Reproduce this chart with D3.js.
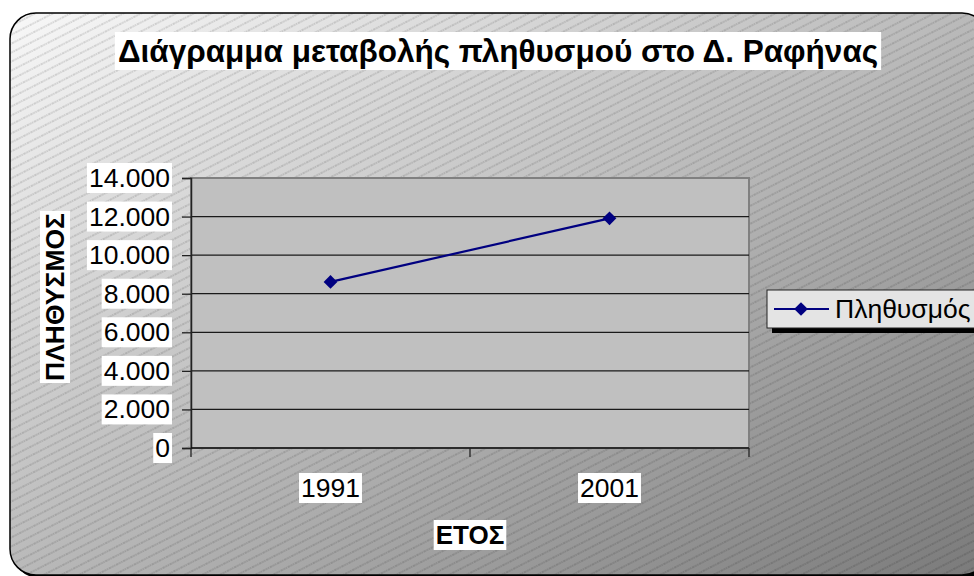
<!DOCTYPE html>
<html>
<head>
<meta charset="utf-8">
<script src="https://cdn.jsdelivr.net/npm/d3@7"></script>
<style>
  body { margin: 0; background: #fff; }
  svg { display: block; font-family: "Liberation Sans", Arial, sans-serif; }
</style>
</head>
<body>
<div id="chart"></div>
<script>
// Population data (Δ. Ραφήνας)
const years = ["1991", "2001"];
const population = [8611, 11909];
const yTicks = [0, 2000, 4000, 6000, 8000, 10000, 12000, 14000];
const seriesName = "Πληθυσμός";
const titleText = "Διάγραμμα μεταβολής πληθυσμού στο Δ. Ραφήνας";
const xTitle = "ΕΤΟΣ";
const yTitle = "ΠΛΗΘΥΣΜΟΣ";

const width = 974, height = 576;
const plot = { left: 191, top: 178, right: 749, bottom: 448 };

const svg = d3.select("#chart").append("svg")
    .attr("width", width)
    .attr("height", height);

const defs = svg.append("defs");

// background gradient, light top-left to dark bottom-right
const grad = defs.append("linearGradient")
    .attr("id", "bg")
    .attr("x1", 0).attr("y1", 0).attr("x2", 1).attr("y2", 1);
grad.append("stop").attr("offset", "0%").attr("stop-color", "#f8f8f8");
grad.append("stop").attr("offset", "100%").attr("stop-color", "#7a7a7a");

// diagonal hatch
const hatch = defs.append("pattern")
    .attr("id", "hatch")
    .attr("patternUnits", "userSpaceOnUse")
    .attr("width", 8).attr("height", 8)
    .attr("patternTransform", "rotate(-27)");
hatch.append("line")
    .attr("x1", 0).attr("y1", 4).attr("x2", 8).attr("y2", 4)
    .attr("stroke", "rgba(0,0,0,0.26)")
    .attr("stroke-width", 1)
    .attr("stroke-dasharray", "1.5,0.8");

// chart area with shadow
const area = { x: 10, y: 13, w: 978, h: 562, r: 26 };
svg.append("rect")
    .attr("x", area.x + 3).attr("y", area.y + 3)
    .attr("width", area.w).attr("height", area.h)
    .attr("rx", area.r).attr("fill", "#000");
svg.append("rect")
    .attr("x", area.x).attr("y", area.y)
    .attr("width", area.w).attr("height", area.h)
    .attr("rx", area.r).attr("fill", "url(#bg)");
svg.append("rect")
    .attr("x", area.x).attr("y", area.y)
    .attr("width", area.w).attr("height", area.h)
    .attr("rx", area.r).attr("fill", "url(#hatch)")
    .attr("stroke", "#000").attr("stroke-width", 1.5);

// scales
const x = d3.scaleBand().domain(years).range([plot.left, plot.right]);
const y = d3.scaleLinear().domain([0, 14000]).range([plot.bottom, plot.top]);

// plot area
svg.append("rect")
    .attr("x", plot.left).attr("y", plot.top)
    .attr("width", plot.right - plot.left)
    .attr("height", plot.bottom - plot.top)
    .attr("fill", "#c0c0c0")
    .attr("stroke", "#808080").attr("stroke-width", 2);

// gridlines
svg.append("g")
    .selectAll("line")
    .data(yTicks.filter(d => d > 0 && d < 14000))
    .join("line")
    .attr("x1", plot.left).attr("x2", plot.right)
    .attr("y1", d => y(d)).attr("y2", d => y(d))
    .attr("stroke", "#1a1a1a").attr("stroke-width", 1.3);

// axes
const yAxis = svg.append("g")
    .attr("transform", `translate(${plot.left},0)`)
    .call(d3.axisLeft(y).tickValues(yTicks).tickSize(9).tickFormat(() => ""));
yAxis.select(".domain").attr("stroke", "#222").attr("stroke-width", 1.5);
yAxis.selectAll(".tick line").attr("stroke", "#222").attr("stroke-width", 1.3);

const xTickPos = [plot.left, (plot.left + plot.right) / 2, plot.right];
const xAxis = svg.append("g");
xAxis.append("line")
    .attr("x1", plot.left).attr("x2", plot.right)
    .attr("y1", plot.bottom).attr("y2", plot.bottom)
    .attr("stroke", "#111").attr("stroke-width", 1.5);
xAxis.selectAll("line.t")
    .data(xTickPos)
    .join("line")
    .attr("class", "t")
    .attr("x1", d => d).attr("x2", d => d)
    .attr("y1", plot.bottom).attr("y2", plot.bottom + 9)
    .attr("stroke", "#222").attr("stroke-width", 1.3);

// text with white box behind
function boxedText(g, txt, px, py, opts) {
    const grp = g.append("g");
    const rect = grp.append("rect").attr("fill", "#fff");
    const t = grp.append("text")
        .attr("x", px).attr("y", py)
        .attr("text-anchor", opts.anchor || "middle")
        .attr("dominant-baseline", "central")
        .attr("font-size", opts.size)
        .attr("font-weight", opts.bold ? "bold" : "normal")
        .attr("fill", "#000")
        .text(txt);
    const b = t.node().getBBox();
    const padX = opts.padX || 2, padY = opts.padY || 0;
    rect.attr("x", b.x - padX).attr("y", b.y - padY)
        .attr("width", b.width + 2 * padX).attr("height", b.height + 2 * padY);
    if (opts.rotate) grp.attr("transform", `rotate(${opts.rotate},${px},${py})`);
    return grp;
}

const labels = svg.append("g");
yTicks.forEach(v => {
    boxedText(labels, d3.format(",")(v).replace(/,/g, "."), 170, y(v), { anchor: "end", size: 26.5 });
});
years.forEach(yr => {
    boxedText(labels, yr, x(yr) + x.bandwidth() / 2, 488, { size: 26.5 });
});
boxedText(labels, titleText, 498, 51, { size: 31.5, bold: true, padX: 3, padY: 1 });
boxedText(labels, xTitle, 470, 535, { size: 26, bold: true });
boxedText(labels, yTitle, 55, 297, { size: 26.5, bold: true, rotate: -90 });

// series
const pts = years.map((yr, i) => ({ x: x(yr) + x.bandwidth() / 2, y: y(population[i]) }));
svg.append("path")
    .datum(pts)
    .attr("d", d3.line().x(d => d.x).y(d => d.y))
    .attr("fill", "none")
    .attr("stroke", "#000080")
    .attr("stroke-width", 2.2);

const diamond = d3.symbol().type(d3.symbolDiamond2).size(120);
svg.append("g")
    .selectAll("path")
    .data(pts)
    .join("path")
    .attr("transform", d => `translate(${d.x},${d.y})`)
    .attr("d", diamond)
    .attr("fill", "#000080");

// legend
const lg = svg.append("g");
const lgBox = { x: 767, y: 290, w: 220, h: 38 };
lg.append("rect")
    .attr("x", lgBox.x + 5).attr("y", lgBox.y + 5)
    .attr("width", lgBox.w).attr("height", lgBox.h)
    .attr("fill", "#000");
lg.append("rect")
    .attr("x", lgBox.x).attr("y", lgBox.y)
    .attr("width", lgBox.w).attr("height", lgBox.h)
    .attr("fill", "#e4e4e4")
    .attr("stroke", "#222").attr("stroke-width", 1);
const ly = lgBox.y + lgBox.h / 2;
lg.append("line")
    .attr("x1", 774).attr("x2", 829)
    .attr("y1", ly).attr("y2", ly)
    .attr("stroke", "#000080").attr("stroke-width", 2.2);
lg.append("path")
    .attr("transform", `translate(801,${ly})`)
    .attr("d", diamond)
    .attr("fill", "#000080");
lg.append("text")
    .attr("x", 835).attr("y", ly)
    .attr("dominant-baseline", "central")
    .attr("font-size", 26.5)
    .text(seriesName);
</script>
</body>
</html>
